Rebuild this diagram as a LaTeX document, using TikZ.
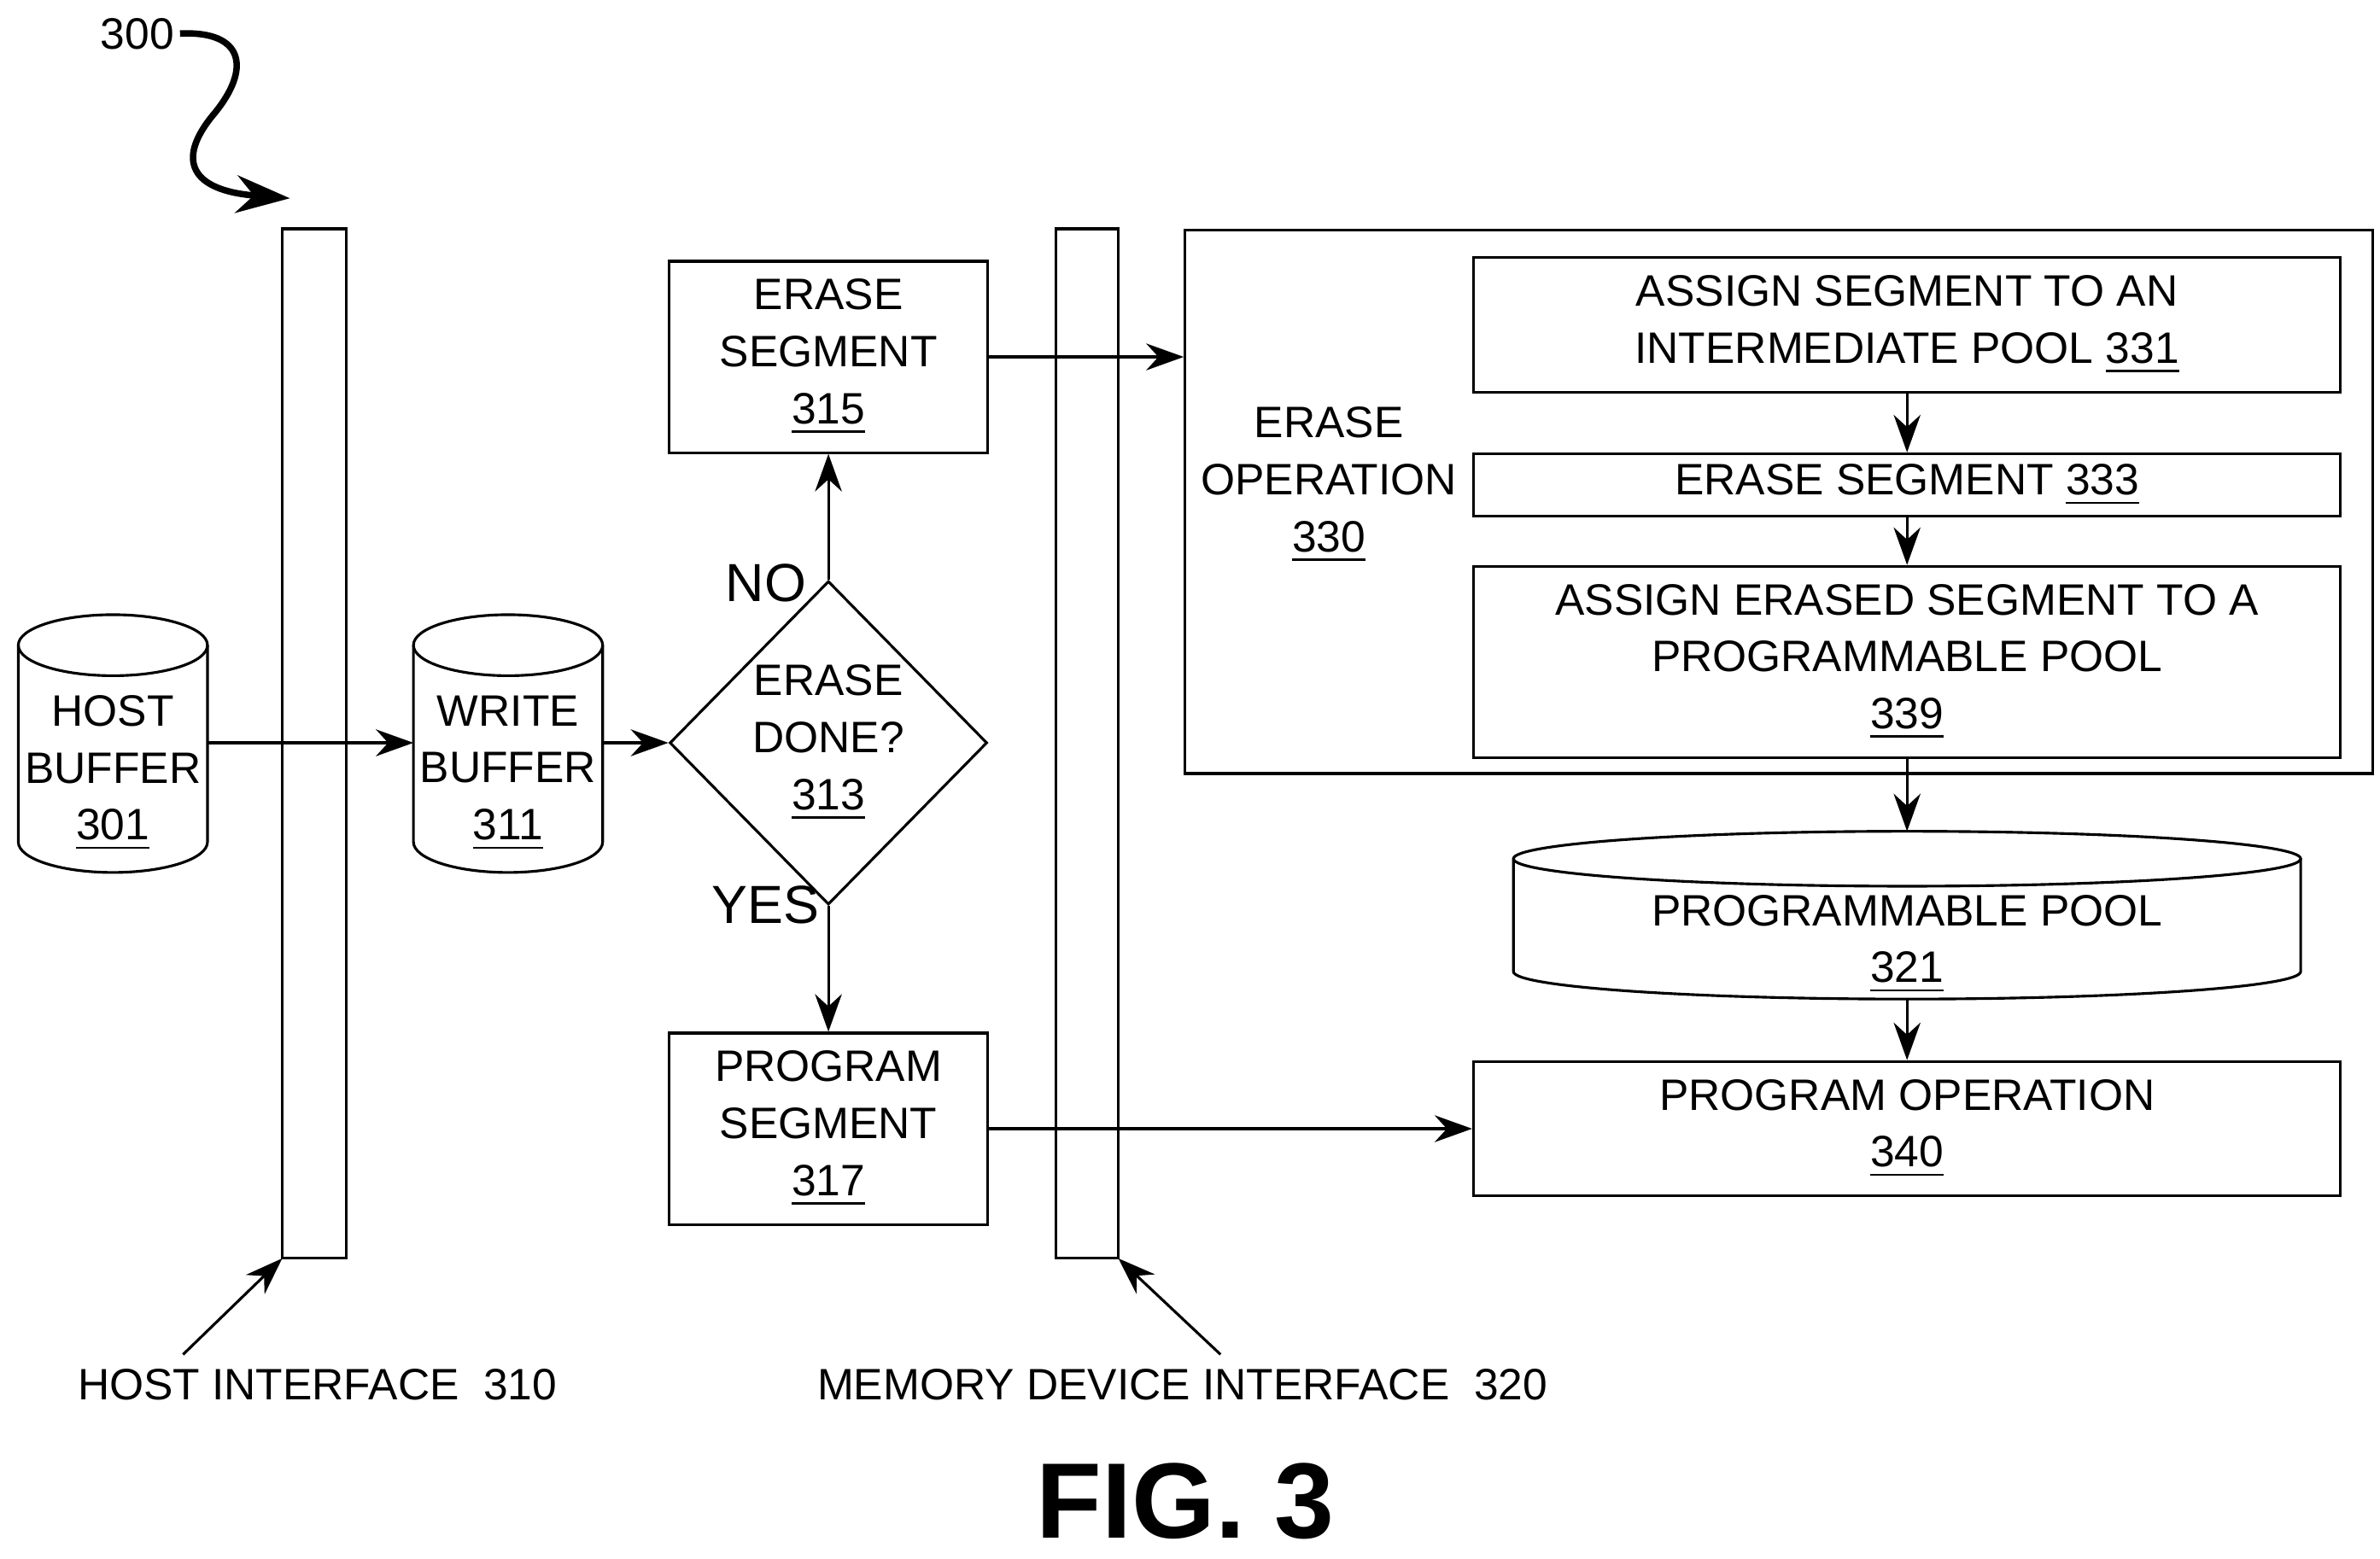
\documentclass[tikz,border=0pt]{standalone}
\usepackage{fontspec}
\setmainfont{Liberation Sans}
\usetikzlibrary{positioning,arrows.meta,shapes.geometric}

\begin{document}
\begin{tikzpicture}[x=0.01cm,y=-0.01cm,line width=0.5pt,
    every node/.style={font=\fontsize{8.2}{10.6}\selectfont,align=center},
    box/.style={draw},
    arr/.style={-{Stealth[length=7pt,width=5pt]}}]
    \useasboundingbox (0,0) rectangle (1560,1022);

    % interface bars
    \draw (185,150) rectangle (227,825);
    \draw (692,150) rectangle (733,825);
    \coordinate (hif) at (185,825);
    \coordinate (mif) at (733,825);

    % buffers
    \draw (12,423) -- (12,552) arc (180:0:62 and 20) -- (136,423);
    \draw (74,423) ellipse (62 and 20);
    \node (host) at (74,507) {HOST\\BUFFER\\\underline{301}};
    \draw (271,423) -- (271,552) arc (180:0:62 and 20) -- (395,423);
    \draw (333,423) ellipse (62 and 20);
    \node (write) at (333,507) {WRITE\\BUFFER\\\underline{311}};
    \coordinate (hostR) at (136,487);
    \coordinate (hostW) at (271,487);
    \coordinate (writeR) at (395,487);

    % decision
    \node[draw,diamond,minimum width=2.08cm,minimum height=2.12cm,inner sep=0pt]
        (done) at (543,487) {};
    \node at (543,487) {ERASE\\DONE?\\\underline{313}};
    \node[box,minimum width=2.09cm,minimum height=1.24cm] (erase) at (543,234)
        {ERASE\\SEGMENT\\\underline{315}};
    \node[box,minimum width=2.09cm,minimum height=1.24cm] (prog) at (543,740)
        {PROGRAM\\SEGMENT\\\underline{317}};

    % erase operation
    \node[box,minimum width=7.78cm,minimum height=3.56cm] (eop) at (1166,329) {};
    \node at (871,318) {ERASE\\OPERATION\\\underline{330}};
    \node[box,minimum width=5.68cm,minimum height=0.82cm] (s331) at (1250,213)
        {ASSIGN SEGMENT TO AN\\INTERMEDIATE POOL \underline{331}};
    \node[box,minimum width=5.68cm,minimum height=0.41cm,inner sep=0pt] (s333) at (1250,318)
        {ERASE SEGMENT \underline{333}};
    \node[box,minimum width=5.68cm,minimum height=1.04cm] (s339) at (1250,434)
        {ASSIGN ERASED SEGMENT TO A\\PROGRAMMABLE POOL\\\underline{339}};

    % pool and program operation
    \draw (992,563) -- (992,637) arc (180:0:258 and 18) -- (1508,563);
    \draw (1250,563) ellipse (258 and 18);
    \node (pool) at (1250,619) {PROGRAMMABLE POOL\\\underline{321}};
    \coordinate (poolT) at (1250,545);
    \coordinate (poolB) at (1250,655);
    \node[box,minimum width=5.68cm,minimum height=0.82cm] (pop) at (1250,740)
        {PROGRAM OPERATION\\\underline{340}};

    % connectors
    \draw[arr] (hostR) -- (hostW);
    \draw[arr] (writeR) -- (done.west);
    \draw[arr] (done.north) -- (erase.south);
    \draw[arr] (done.south) -- (prog.north);
    \node at (502,382) {\fontsize{10}{12}\selectfont NO};
    \node at (502,593) {\fontsize{10}{12}\selectfont YES};
    \draw[arr] (erase.east) -- (eop.west |- erase.east);
    \draw[arr] (prog.east) -- (pop.west);
    \draw[arr] (s331) -- (s333);
    \draw[arr] (s333) -- (s339);
    \draw[arr] (s339) -- (poolT);
    \draw[arr] (poolB) -- (pop);

    % interface labels
    \node (hlab) at (208,908) {HOST INTERFACE~~310};
    \node (mlab) at (775,908) {MEMORY DEVICE INTERFACE~~320};
    \draw[arr] (120,888) -- (hif);
    \draw[arr] (800,888) -- (mif);

    % figure reference
    \node (ref) at (90,22) {300};
    \draw[-{Stealth[length=10pt,width=7pt]},line width=1.2pt]
        (118,22) .. controls (160,20) and (165,45) .. (140,75)
        .. controls (115,105) and (125,125) .. (190,130);
    \node at (777,984) {\fontsize{20}{24}\selectfont\bfseries FIG. 3};
\end{tikzpicture}
\end{document}
